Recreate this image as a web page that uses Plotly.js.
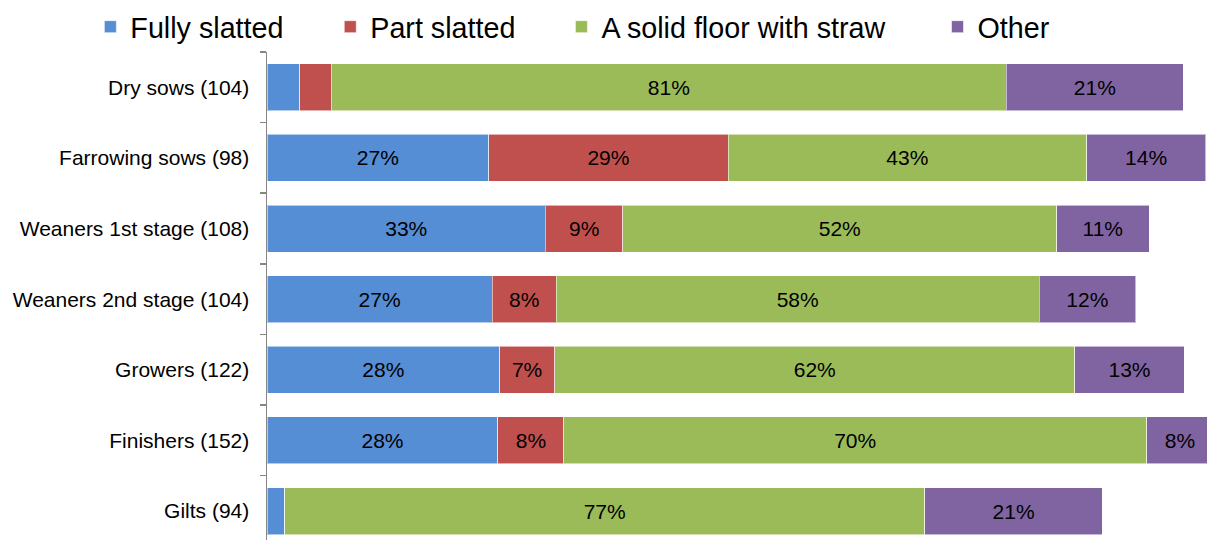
<!DOCTYPE html>
<html>
<head>
<meta charset="utf-8">
<script src="https://cdn.plot.ly/plotly-3.0.1.min.js"></script>
<style>html,body{margin:0;padding:0;background:#fff;}#chart{width:1207px;height:540px;}</style>
</head>
<body>
<div id="chart"></div>
<script>
var categories = ["Dry sows (104)", "Farrowing sows (98)", "Weaners 1st stage (108)", "Weaners 2nd stage (104)", "Growers (122)", "Finishers (152)", "Gilts (94)"];
var fullySlatted = [3.9, 26.6, 33.4, 27.0, 27.9, 27.7, 2.1];
var partSlatted  = [3.8, 28.7, 9.3, 7.7, 6.6, 7.9, 0];
var solidStraw   = [81.0, 43.0, 52.0, 57.9, 62.4, 69.9, 76.8];
var other        = [21.2, 14.3, 11.1, 11.6, 13.1, 8.0, 21.3];
var seriesNames  = ["Fully slatted", "Part slatted", "A solid floor with straw", "Other"];
var seriesColors = ["#558ED5", "#C0504D", "#9BBB59", "#8064A2"];

var FONT = "Liberation Sans, Arial, sans-serif";
function labels(vals) { return vals.map(function (v) { return v >= 5 ? Math.round(v) + "%" : ""; }); }

var seriesValues = [fullySlatted, partSlatted, solidStraw, other];
var legendKeys = ["legend", "legend2", "legend3", "legend4"];
var traces = seriesValues.map(function (vals, i) {
  return {
    type: "bar", orientation: "h",
    name: seriesNames[i],
    x: vals, y: categories,
    text: labels(vals),
    textposition: "inside",
    insidetextanchor: "middle",
    textangle: 0,
    constraintext: "none",
    textfont: {family: FONT, size: 21, color: "#000000"},
    marker: {color: seriesColors[i], line: {color: "rgba(255,255,255,0.55)", width: 1}},
    hoverinfo: "none",
    legend: legendKeys[i]
  };
});

function leg(x) {
  return {orientation: "h", x: x, xanchor: "left", y: 1.0512, yanchor: "middle",
          font: {family: FONT, size: 28.7, color: "#000000"}, bgcolor: "rgba(0,0,0,0)", borderwidth: 0};
}

var layout = {
  width: 1207, height: 540,
  margin: {l: 267, r: 0, t: 52, b: 0, pad: 0},
  paper_bgcolor: "#ffffff", plot_bgcolor: "#ffffff",
  barmode: "stack", bargap: 0.334,
  showlegend: true,
  legend: leg(-0.1879),
  legend2: leg(0.0673),
  legend3: leg(0.3132),
  legend4: leg(0.7133),
  xaxis: {range: [0, 112.75], visible: false, showgrid: false, zeroline: false, fixedrange: true},
  yaxis: {
    type: "category", range: [6.41, -0.5], autorange: false,
    showline: true, linecolor: "#868686", linewidth: 1.5,
    ticks: "outside", tickson: "boundaries", ticklen: 6, tickcolor: "#868686", tickwidth: 1.5,
    ticklabelstandoff: 12,
    tickfont: {family: FONT, size: 21, color: "#000000"},
    showgrid: false, zeroline: false, fixedrange: true
  }
};

Plotly.newPlot("chart", traces, layout, {staticPlot: true, displayModeBar: false});
</script>
</body>
</html>
